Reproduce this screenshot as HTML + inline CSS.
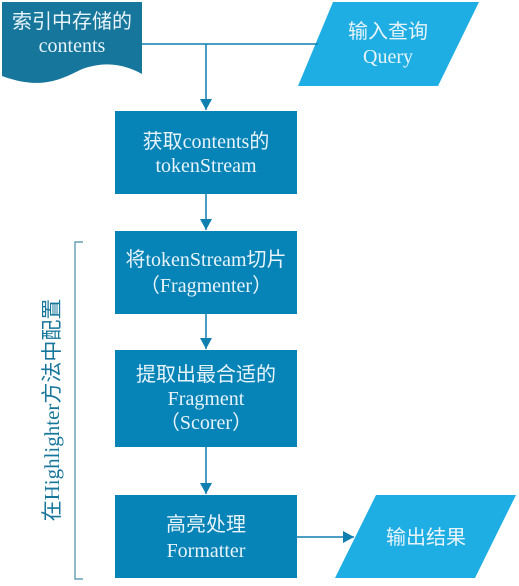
<!DOCTYPE html>
<html><head><meta charset="utf-8"><style>
html,body{margin:0;padding:0;background:#fff;}
svg text{font-family:"Liberation Serif","Noto Sans CJK SC",serif;fill:#e8f4fa;font-size:20px;text-anchor:middle;}
</style></head><body>
<svg width="519" height="581" viewBox="0 0 519 581" xmlns="http://www.w3.org/2000/svg">
<defs><marker id="a" markerWidth="12" markerHeight="12" refX="11" refY="6" orient="auto" markerUnits="userSpaceOnUse"><path d="M0,0 L11,6 L0,12z" fill="#0f7fb0"/></marker></defs>
<path d="M2,2 H142 V74 C120,62 100,62 80,70 C60,80 40,90 2,76 Z" fill="#16769b"/>
<text x="72" y="28">索引中存储的</text>
<text x="72" y="52">contents</text>
<polygon points="333,2 479,2 438,86 298,86" fill="#1eaee3"/>
<text x="388" y="38">输入查询</text>
<text x="388" y="63">Query</text>
<path d="M142,44 H318" stroke="#0f7fb0" stroke-width="1.5" fill="none"/>
<path d="M206,44 V110" stroke="#0f7fb0" stroke-width="1.5" fill="none" marker-end="url(#a)"/>
<rect x="115" y="111" width="182" height="83" fill="#0683b7"/>
<text x="206" y="148">获取contents的</text>
<text x="206" y="172">tokenStream</text>
<path d="M206,194 V230" stroke="#0f7fb0" stroke-width="1.5" fill="none" marker-end="url(#a)"/>
<rect x="115" y="231" width="182" height="83" fill="#0683b7"/>
<text x="206" y="266">将tokenStream切片</text>
<text x="206" y="292">（Fragmenter）</text>
<path d="M206,314 V349" stroke="#0f7fb0" stroke-width="1.5" fill="none" marker-end="url(#a)"/>
<rect x="115" y="350" width="182" height="97" fill="#0683b7"/>
<text x="206" y="381">提取出最合适的</text>
<text x="206" y="405">Fragment</text>
<text x="206" y="429">（Scorer）</text>
<path d="M206,447 V494" stroke="#0f7fb0" stroke-width="1.5" fill="none" marker-end="url(#a)"/>
<rect x="115" y="495" width="182" height="83" fill="#0683b7"/>
<text x="206" y="531">高亮处理</text>
<text x="206" y="557">Formatter</text>
<path d="M297,537 H354" stroke="#0f7fb0" stroke-width="1.5" fill="none" marker-end="url(#a)"/>
<polygon points="376,495 516,495 475,578 335,578" fill="#1eaee3"/>
<text x="426" y="544">输出结果</text>
<path d="M83,242 H75 V579 H83" stroke="#4a8aaa" stroke-width="1.2" fill="none"/>
<text x="0" y="0" transform="translate(59,410) rotate(-90)" style="fill:#16769b;font-size:21px">在Highlighter方法中配置</text>
</svg>
</body></html>
